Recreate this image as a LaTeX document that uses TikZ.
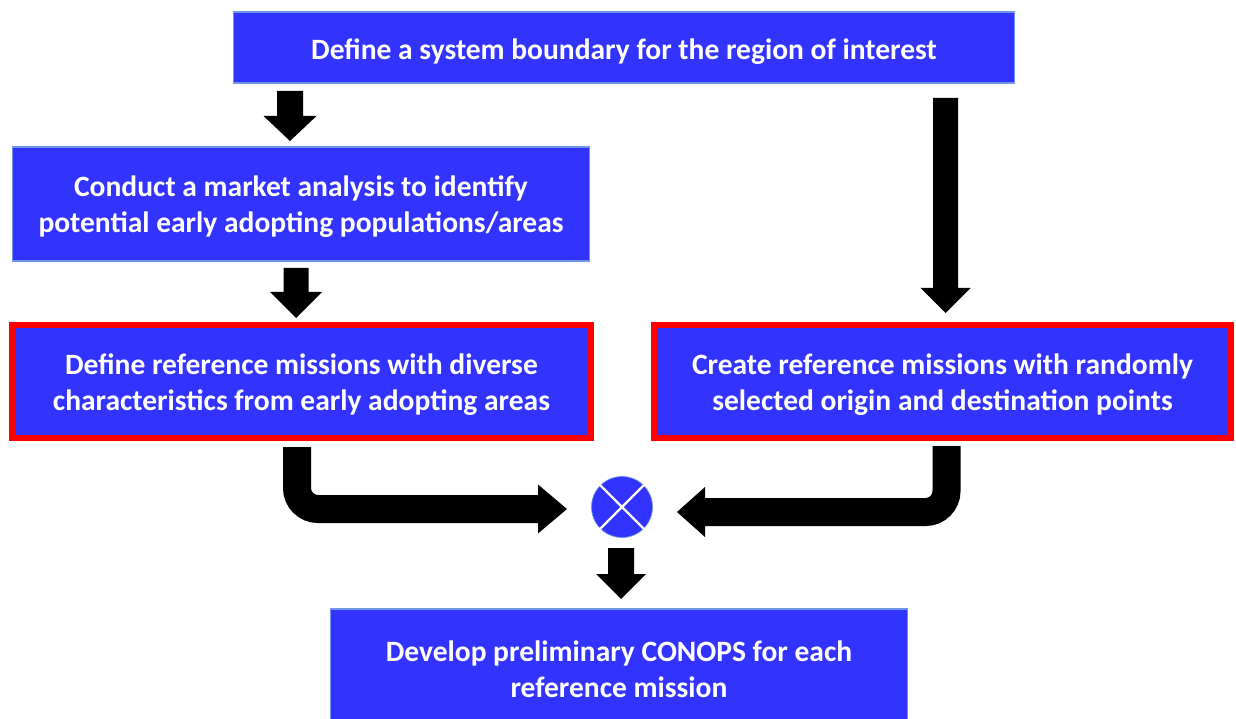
\documentclass[tikz,border=0pt]{standalone}
\usepackage{fontspec}
\setmainfont{Carlito}
\usetikzlibrary{calc}
\definecolor{boxblue}{RGB}{51,51,255}
\definecolor{edgeblue}{RGB}{110,150,230}
\definecolor{rededge}{RGB}{255,0,0}
% vertical block arrow: cx, y-start, y-head, y-tip, half shaft, half head
\newcommand\vblockarrow[6]{%
  \fill[black] (#1-#5,#2) -- (#1+#5,#2) -- (#1+#5,#3) -- (#1+#6,#3) -- (#1,#4)
    -- (#1-#6,#3) -- (#1-#5,#3) -- cycle;}
\begin{document}
\begin{tikzpicture}[x=0.02cm,y=-0.02cm,
  box/.style={rectangle, fill=boxblue, draw=edgeblue, line width=0.6pt, inner sep=0pt},
  redbox/.style={box, draw=rededge, line width=0.12cm},
  txt/.style={text=white, font=\bfseries\fontsize{16.8}{20.6}\selectfont, align=center, inner sep=0pt},
  bentshaft/.style={draw=black, line width=0.56cm, rounded corners=0.42cm},
  headfill/.style={fill=black}]
\useasboundingbox (0,0) rectangle (1236,719);

\node[box, minimum width=15.64cm, minimum height=1.42cm] (b1) at (624,47.5) {};
\node[box, minimum width=11.56cm, minimum height=2.28cm] (b2) at (301,204) {};
\node[redbox, minimum width=11.58cm, minimum height=2.26cm] (b3) at (301.5,381.5) {};
\node[redbox, minimum width=11.54cm, minimum height=2.26cm] (b4) at (942.5,381.5) {};
\node[box, minimum width=11.56cm, minimum height=2.36cm] (b5) at (619,668) {};

\node[txt] (t1) at ($(b1.center)+(0,4)$) {Define a system boundary\ for the region of interest};
\node[txt] (t2) at ($(b2.center)+(0,3)$) {Conduct a market analysis to identify\\potential early adopting populations/areas};
\node[txt] (t3) at ($(b3.center)+(0,3)$) {Define reference missions with diverse\\characteristics from early adopting areas};
\node[txt] (t4) at ($(b4.center)+(0,3)$) {Create reference missions with randomly\\selected origin and destination points};
\node[txt] (t5) at ($(b5.center)+(0,1)$) {Develop preliminary CONOPS for each\\reference mission};

\node[circle, fill=boxblue, draw=edgeblue, line width=0.4pt, minimum size=1.22cm, inner sep=0pt] (c) at (622,507) {};
\draw[white, line width=1.3pt] (c.45) -- (c.225);
\draw[white, line width=1.3pt] (c.135) -- (c.315);

% straight block arrows
\vblockarrow{290}{91}{116}{141}{13}{26.5}
\vblockarrow{296}{268}{292}{318}{12.5}{26}
\vblockarrow{945.5}{98}{288}{313}{12.5}{25}
\vblockarrow{621}{548}{574}{599}{13}{25}

% bent arrows into the junction
\coordinate (l0) at (297,447);
\coordinate (l1) at (297,509);
\coordinate (l2) at (540,509);
\draw[bentshaft] (l0) -- (l1) -- (l2);
\fill[headfill] (538,484.5) -- (567,509) -- (538,533.5) -- cycle;

\coordinate (r0) at (946.5,446);
\coordinate (r1) at (946.5,512);
\coordinate (r2) at (703,512);
\draw[bentshaft] (r0) -- (r1) -- (r2);
\fill[headfill] (705,487) -- (677,512) -- (705,537) -- cycle;
\end{tikzpicture}
\end{document}
